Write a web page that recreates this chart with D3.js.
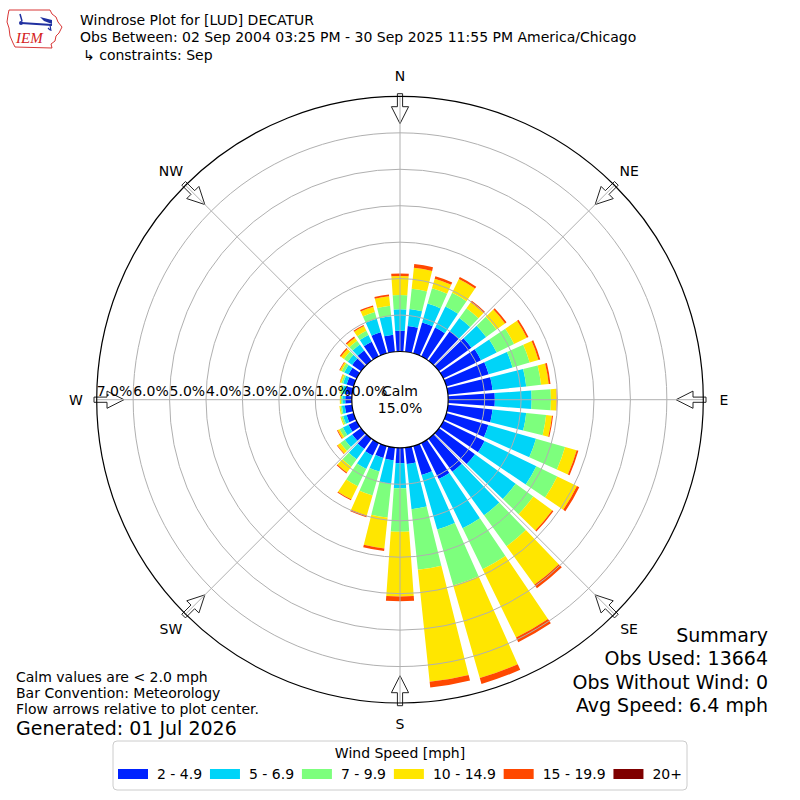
<!DOCTYPE html>
<html lang="en">
<head>
<meta charset="UTF-8">
<title>Windrose Plot for [LUD] DECATUR</title>
<script src="https://d3js.org/d3.v7.min.js"></script>
<style>
  body { margin: 0; background: #fff; }
  svg { display: block; font-family: "DejaVu Sans", sans-serif; }
</style>
</head>
<body>
<svg id="chart" width="800" height="800"></svg>
<script>
// ---- data (percent of observations) ----
const directions = d3.range(0, 360, 10);
const speedBins = ["2 - 4.9", "5 - 6.9", "7 - 9.9", "10 - 14.9", "15 - 19.9", "20+"];
const binColors = ["#0022ff", "#00d4f8", "#7dff7d", "#ffe600", "#ff4800", "#7f0000"];

const pct2to5 = [0.57, 0.71, 0.88, 0.88, 1.00, 1.10, 1.15, 1.21, 1.23, 1.28, 1.23, 1.20,
                 1.26, 1.22, 1.12, 1.10, 0.83, 0.45, 0.42, 0.35, 0.34, 0.38, 0.35, 0.30,
                 0.25, 0.20, 0.20, 0.18, 0.18, 0.20, 0.25, 0.30, 0.35, 0.45, 0.60, 0.47];
const pct5to7 = [0.59, 0.47, 0.54, 0.64, 0.45, 0.50, 0.48, 0.68, 0.93, 1.01, 0.93, 1.36,
                 1.58, 1.38, 1.48, 1.50, 1.55, 1.25, 0.69, 0.65, 0.39, 0.41, 0.35, 0.25,
                 0.17, 0.10, 0.08, 0.08, 0.09, 0.10, 0.13, 0.15, 0.20, 0.20, 0.39, 0.51];
const pct7to10 = [0.39, 0.56, 0.44, 0.42, 0.33, 0.35, 0.53, 0.49, 0.41, 0.53, 0.55, 0.83,
                  0.64, 0.60, 1.05, 1.25, 1.60, 1.67, 1.19, 0.93, 0.68, 0.53, 0.25, 0.15,
                  0.10, 0.05, 0.04, 0.04, 0.05, 0.05, 0.08, 0.13, 0.13, 0.13, 0.19, 0.29];
const pct10to15 = [0.52, 0.58, 0.27, 0.42, 0.20, 0.29, 0.39, 0.25, 0.21, 0.15, 0.16, 0.33,
                   0.60, 0.64, 1.30, 2.09, 2.64, 3.09, 1.78, 0.85, 0.57, 0.40, 0.20, 0.10,
                   0.06, 0.03, 0.03, 0.03, 0.03, 0.04, 0.05, 0.10, 0.10, 0.15, 0.15, 0.26];
const pct15to20 = [0.07, 0.10, 0.07, 0.06, 0.05, 0.05, 0.05, 0.05, 0.05, 0.01, 0.03, 0.05,
                   0.07, 0.04, 0.12, 0.14, 0.17, 0.16, 0.13, 0.07, 0.05, 0.03, 0.03, 0.02,
                   0.02, 0.00, 0.00, 0.00, 0.00, 0.01, 0.02, 0.04, 0.04, 0.03, 0.04, 0.05];
const pct20up = [0, 0, 0, 0, 0, 0, 0, 0, 0, 0, 0, 0,
                 0, 0, 0, 0, 0, 0, 0, 0, 0, 0, 0, 0,
                 0, 0, 0, 0, 0, 0, 0, 0, 0, 0, 0, 0];

const calmPct = 15.0;
const ringTicks = [0, 1, 2, 3, 4, 5, 6, 7];
const compassPoints = ["N", "NE", "E", "SE", "S", "SW", "W", "NW"];

const titleLines = [
  "Windrose Plot for [LUD] DECATUR",
  "Obs Between: 02 Sep 2004 03:25 PM - 30 Sep 2025 11:55 PM America/Chicago",
  "\u21b3 constraints: Sep"
];
const noteLines = ["Calm values are < 2.0 mph", "Bar Convention: Meteorology", "Flow arrows relative to plot center."];
const generatedText = "Generated: 01 Jul 2026";
const summaryLines = ["Summary", "Obs Used: 13664", "Obs Without Wind: 0", "Avg Speed: 6.4 mph"];

// ---- setup ----
const svg = d3.select("#chart");
const cx = 400, cy = 399.7;
const r = d3.scaleLinear().domain([0, 7]).range([48.2, 303.3]);
const toRad = d => d * Math.PI / 180;
const barHalf = 4; // degrees
const fs = 14;

const binArrays = [pct2to5, pct5to7, pct7to10, pct10to15, pct15to20, pct20up];

const plot = svg.append("g").attr("transform", `translate(${cx},${cy})`);

// stacked bars
const arc = d3.arc();
directions.forEach((dir, i) => {
  let base = 0;
  binArrays.forEach((arr, b) => {
    const v = arr[i];
    if (v <= 0) return;
    plot.append("path")
      .attr("d", arc({
        innerRadius: r(base),
        outerRadius: r(base + v),
        startAngle: toRad(dir - barHalf),
        endAngle: toRad(dir + barHalf)
      }))
      .attr("fill", binColors[b]);
    base += v;
  });
});

// flow arrows (outlined, pointing to the center)
function arrowPoints(deg) {
  const a = toRad(deg);
  const pts = [[306, -2.6], [293, -2.6], [293, -8.6], [276, 0], [293, 8.6], [293, 2.6], [306, 2.6]];
  return pts.map(([rr, t]) => [rr * Math.sin(a) + t * Math.cos(a), -rr * Math.cos(a) + t * Math.sin(a)]);
}
plot.selectAll(".arrow")
  .data(compassPoints)
  .enter().append("polygon")
  .attr("points", (d, i) => arrowPoints(i * 45).map(p => p.join(",")).join(" "))
  .attr("fill", "#fff")
  .attr("stroke", "#222")
  .attr("stroke-width", 1);

// grid rings
plot.selectAll(".ring")
  .data(ringTicks.slice(1, -1))
  .enter().append("circle")
  .attr("r", d => r(d))
  .attr("fill", "none")
  .attr("stroke", "#b0b0b0")
  .attr("stroke-width", 1);

// radial lines
plot.selectAll(".spoke")
  .data(d3.range(0, 360, 45))
  .enter().append("line")
  .attr("x1", 0).attr("y1", 0)
  .attr("x2", d => r(7) * Math.sin(toRad(d)))
  .attr("y2", d => -r(7) * Math.cos(toRad(d)))
  .attr("stroke", "#b0b0b0")
  .attr("stroke-width", 1);

// outer circle
plot.append("circle")
  .attr("r", r(7))
  .attr("fill", "none")
  .attr("stroke", "#000")
  .attr("stroke-width", 1.2);

// calm circle
plot.append("circle")
  .attr("r", r(0))
  .attr("fill", "#fff")
  .attr("stroke", "#000")
  .attr("stroke-width", 1.2);

plot.append("text")
  .attr("x", 0).attr("y", -3.5)
  .attr("text-anchor", "middle")
  .attr("font-size", fs)
  .text("Calm");
plot.append("text")
  .attr("x", 0).attr("y", 13.5)
  .attr("text-anchor", "middle")
  .attr("font-size", fs)
  .text(calmPct.toFixed(1) + "%");

// ring labels along the west axis
plot.selectAll(".ringlabel")
  .data(ringTicks)
  .enter().append("text")
  .attr("x", d => -r(d))
  .attr("y", -3.5)
  .attr("font-size", fs)
  .text(d => d.toFixed(1) + "%");

// compass labels
plot.selectAll(".compass")
  .data(compassPoints)
  .enter().append("text")
  .attr("x", (d, i) => 324 * Math.sin(toRad(i * 45)))
  .attr("y", (d, i) => -324 * Math.cos(toRad(i * 45)))
  .attr("text-anchor", "middle")
  .attr("dominant-baseline", "central")
  .attr("font-size", fs)
  .text(d => d);

// ---- header ----
const logo = svg.append("g");
logo.append("path")
  .attr("d", "M9,10 L50,10 L52,14 L56,17 L58,22 L62,27 L59,33 L56,36 L55,41 L51,44 L52,48 L15,47 L13,43 L10,36 L9,28 L7,22 L8,15 Z")
  .attr("fill", "#fff")
  .attr("stroke", "#d42020")
  .attr("stroke-width", 0.9);
logo.append("line").attr("x1", 21).attr("y1", 23).attr("x2", 52).attr("y2", 25)
  .attr("stroke", "#2030a0").attr("stroke-width", 2);
logo.append("path").attr("d", "M40,17 L52,20 L52,24 L44,21 Z").attr("fill", "#2030a0");
logo.append("path").attr("d", "M20,14 L22,21").attr("stroke", "#2030a0").attr("stroke-width", 1.5);
logo.append("circle").attr("cx", 21).attr("cy", 23).attr("r", 2).attr("fill", "#2030a0");
logo.append("path").attr("d", "M50,25 L51,31 M48,28 L50,30").attr("stroke", "#2030a0").attr("stroke-width", 1.2).attr("fill", "none");
logo.append("text")
  .attr("x", 16).attr("y", 43)
  .attr("font-family", "'Liberation Serif', serif")
  .attr("font-style", "italic")
  .attr("font-size", 15)
  .attr("fill", "#d42020")
  .text("IEM");

svg.selectAll(".title")
  .data(titleLines)
  .enter().append("text")
  .attr("x", (d, i) => i === 2 ? 83 : 80)
  .attr("y", (d, i) => 24.5 + i * 17.5)
  .attr("font-size", fs)
  .text(d => d);

// ---- footer notes ----
svg.selectAll(".note")
  .data(noteLines)
  .enter().append("text")
  .attr("x", 16)
  .attr("y", (d, i) => 681.5 + i * 16.3)
  .attr("font-size", fs)
  .text(d => d);
svg.append("text")
  .attr("x", 16).attr("y", 735)
  .attr("font-size", 19)
  .text(generatedText);

svg.selectAll(".summary")
  .data(summaryLines)
  .enter().append("text")
  .attr("x", 768)
  .attr("y", (d, i) => 641.5 + i * 23.5)
  .attr("text-anchor", "end")
  .attr("font-size", 19)
  .text(d => d);

// ---- legend ----
const legend = svg.append("g");
legend.append("rect")
  .attr("x", 113).attr("y", 741)
  .attr("width", 574).attr("height", 49)
  .attr("fill", "#fff")
  .attr("stroke", "#cccccc")
  .attr("stroke-width", 1)
  .attr("rx", 4);
legend.append("text")
  .attr("x", 400).attr("y", 757.5)
  .attr("text-anchor", "middle")
  .attr("font-size", fs)
  .text("Wind Speed [mph]");

const entries = legend.selectAll(".entry")
  .data(speedBins)
  .enter().append("g");
entries.append("rect")
  .attr("width", 30).attr("height", 10)
  .attr("y", 769)
  .attr("fill", (d, i) => binColors[i]);
const entryText = entries.append("text")
  .attr("y", 779)
  .attr("font-size", fs)
  .text(d => d);

const widths = entryText.nodes().map(n => n.getComputedTextLength());
const handle = 30, pad = 9;
const inner = 574 - 10;
const colGap = (inner - d3.sum(widths) - speedBins.length * (handle + pad)) / (speedBins.length - 1);
let xPos = 118;
entries.each(function (d, i) {
  const g = d3.select(this);
  g.select("rect").attr("x", xPos);
  g.select("text").attr("x", xPos + handle + pad);
  xPos += handle + pad + widths[i] + colGap;
});
</script>
</body>
</html>
